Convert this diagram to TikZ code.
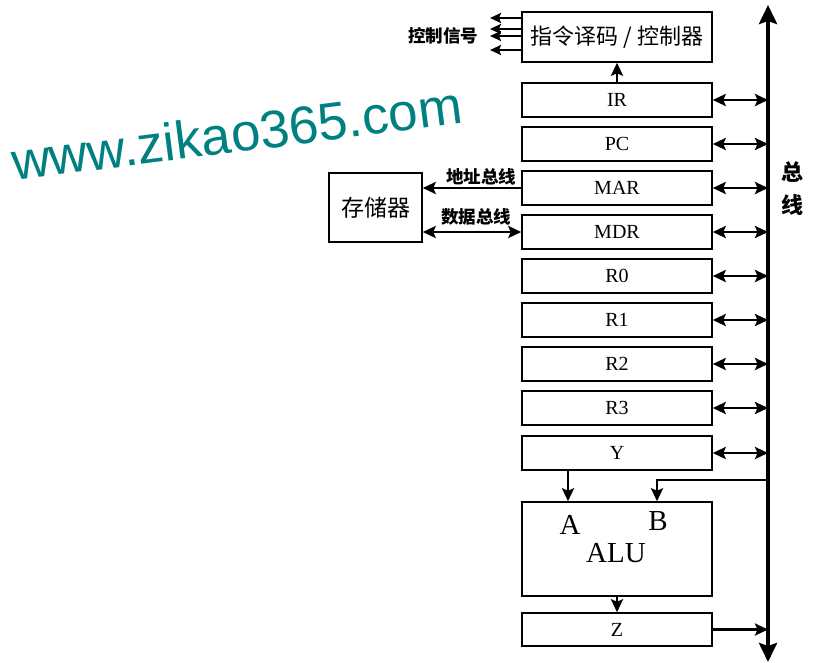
\documentclass[tikz,border=0pt]{standalone}
\usepackage{fontspec}
\setmainfont{Liberation Serif}
\newfontfamily\cjk{Noto Sans CJK SC}
\newfontfamily\wmfont{Liberation Sans}
\usetikzlibrary{arrows.meta,calc}
\definecolor{wmteal}{RGB}{0,128,128}
\tikzset{
  regbox/.style={draw, line width=1.5pt, minimum width=190pt, minimum height=34pt, inner sep=0pt, font=\fontsize{20}{20}\selectfont},
  tipsig/.tip={Stealth[length=13pt,width=12pt,inset=2.5pt]},
  sig/.style={line width=2.6pt, -tipsig},
  bisig/.style={line width=2.6pt, tipsig-tipsig},
  smalllabel/.style={font=\cjk\bfseries\fontsize{17.5}{17.5}\selectfont, inner sep=0pt},
}
\begin{document}
\begin{tikzpicture}[x=1pt,y=-1pt]
\useasboundingbox (0,0) rectangle (813,662);
% watermark
\node[rotate=7.3, anchor=base, text=wmteal, font=\wmfont\fontsize{53}{53}\selectfont, inner sep=0pt] (wm) at (239,152) {www.zikao365.com};
% controller
\node[regbox, minimum height=50pt, font=\cjk\fontsize{22}{22}\selectfont] (ctrl) at (617,37) {指令译码 / 控制器};
% registers
\node[regbox] (IR)  at (617,100) {IR};
\node[regbox] (PC)  at (617,144) {PC};
\node[regbox] (MAR) at (617,188) {MAR};
\node[regbox] (MDR) at (617,232) {MDR};
\node[regbox] (R0)  at (617,276) {R0};
\node[regbox] (R1)  at (617,320) {R1};
\node[regbox] (R2)  at (617,364) {R2};
\node[regbox] (R3)  at (617,408) {R3};
\node[regbox] (Y)   at (617,453) {Y};
\node[regbox, minimum height=94pt] (ALU) at (617,549) {};
\node[font=\fontsize{29}{29}\selectfont, inner sep=0pt] (Alab) at (570,525) {A};
\node[font=\fontsize{29}{29}\selectfont, inner sep=0pt] (Blab) at (658,521) {B};
\node[font=\fontsize{29}{29}\selectfont, inner sep=0pt] (ALUlab) at (616,553) {ALU};
\node[regbox, minimum height=33pt] (Z) at (617,629.5) {Z};
% memory
\node[draw, line width=1.5pt, minimum width=93pt, minimum height=69pt, inner sep=0pt, font=\cjk\fontsize{23}{23}\selectfont] (mem) at (375.5,207.5) {存储器};
% bus
\coordinate (bustop) at (768,5);
\coordinate (busbot) at (768,662);
\draw[line width=3.8pt, {Stealth[length=19pt,width=18pt,inset=3pt]}-{Stealth[length=19pt,width=18pt,inset=3pt]}] (busbot) -- (bustop);
\node[font=\cjk\bfseries\fontsize{22}{22}\selectfont, inner sep=0pt] (buslab1) at (792,171.5) {总};
\node[font=\cjk\bfseries\fontsize{22}{22}\selectfont, inner sep=0pt] (buslab2) at (792,205) {线};
% register <-> bus
\foreach \r in {IR,PC,MAR,MDR,R0,R1,R2,R3,Y}{
  \draw[bisig] (\r.east) -- (\r.east -| bustop);
}
\draw[sig] (Z.east) -- (Z.east -| bustop);
% IR -> controller
\draw[sig] (IR.north) -- (ctrl.south);
% control signals
\coordinate (cs1) at (490,18);
\coordinate (cs2) at (490,29);
\coordinate (cs3) at (490,36);
\coordinate (cs4) at (490,50);
\foreach \c in {cs1,cs2,cs3,cs4}{
  \draw[line width=2.2pt, -{Stealth[length=11pt,width=10pt,inset=2pt]}] (ctrl.west |- \c) -- (\c);
}
\node[smalllabel] (cslab) at (443,36) {控制信号};
% memory buses
\draw[sig] (MAR.west) -- (MAR.west -| mem.east);
\draw[bisig] (MDR.west) -- (MDR.west -| mem.east);
\node[smalllabel] (ablab) at (481,177) {地址总线};
\node[smalllabel] (dblab) at (476,217) {数据总线};
% ALU inputs
\coordinate (ain) at (568,470);
\draw[sig] (Y.south -| ain) -- (ALU.north -| ain);
\coordinate (bj) at (768,480);
\coordinate (bcorner) at (657,480);
\draw[sig] (bj) -- (bcorner) -- (bcorner |- ALU.north);
% ALU -> Z
\draw[sig] (ALU.south) -- (Z.north);
\end{tikzpicture}
\end{document}
